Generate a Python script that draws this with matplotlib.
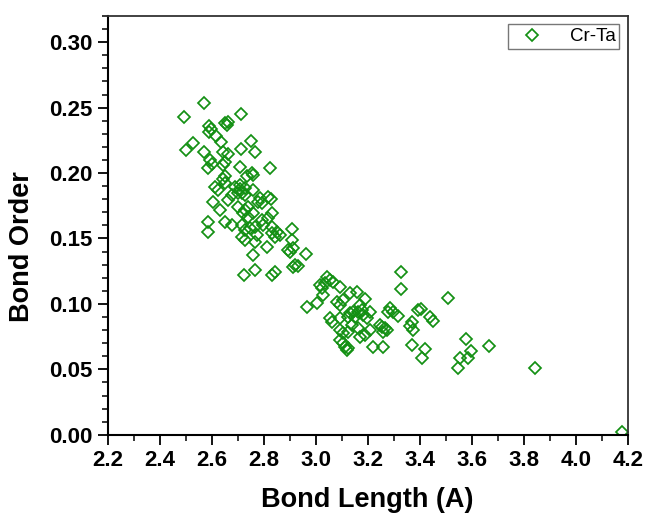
import numpy as np
import matplotlib.pyplot as plt
from matplotlib.ticker import MultipleLocator, FormatStrFormatter

plt.rcParams['font.family'] = ['Liberation Sans', 'DejaVu Sans']

# Cr-Ta pairs: bond length (A) and bond order
bond_length = [
    2.572, 2.494, 2.713, 2.591, 2.597, 2.590, 2.652, 2.664, 2.658, 2.616,
    2.635, 2.750, 2.530, 2.501, 2.571, 2.645, 2.664, 2.713, 2.767, 2.594,
    2.587, 2.600, 2.652, 2.645, 2.709, 2.826, 2.754, 2.760, 2.735, 2.652,
    2.645, 2.613, 2.626, 2.690, 2.709, 2.728, 2.718, 2.760, 2.818, 2.652,
    2.709, 2.703, 2.728, 2.677, 2.786, 2.780, 2.793, 2.828, 2.607, 2.632,
    2.664, 2.703, 2.728, 2.741, 2.722, 2.741, 2.760, 2.831, 2.818, 2.793,
    2.799, 2.587, 2.587, 2.652, 2.677, 2.716, 2.728, 2.748, 2.767, 2.773,
    2.767, 2.831, 2.850, 2.844, 2.863, 2.831, 2.716, 2.728, 2.908, 2.908,
    2.895, 2.914, 2.901, 2.812, 2.760, 2.963, 2.921, 2.914, 2.933, 2.726,
    2.767, 2.831, 2.844,
    3.042, 3.055, 3.068, 3.036, 3.017, 3.023, 3.094, 3.029, 3.132, 3.158,
    3.190, 2.966, 3.004, 3.081, 3.094, 3.106, 3.170, 3.177, 3.164, 3.145,
    3.132, 3.125, 3.151, 3.183, 3.196, 3.209, 3.286, 3.298, 3.279, 3.318,
    3.055, 3.062, 3.094, 3.254, 3.266, 3.260, 3.273, 3.247, 3.094, 3.106,
    3.125, 3.138, 3.164, 3.170, 3.094, 3.106, 3.113, 3.125, 3.119, 3.219,
    3.260, 3.190, 3.209,
    3.369, 3.363, 3.375, 3.369, 3.394, 3.327, 3.327, 3.510, 3.404, 3.439,
    3.452, 3.577, 3.666, 3.420, 3.408, 3.596, 3.587, 3.555, 3.548, 3.843,
    4.176,
]
bond_order = [
    0.2538, 0.2431, 0.2452, 0.2360, 0.2335, 0.2316, 0.2381, 0.2388, 0.2368, 0.2286,
    0.2235, 0.2245, 0.2228, 0.2177, 0.2164, 0.2164, 0.2146, 0.2182, 0.2164, 0.2100,
    0.2041, 0.2069, 0.2087, 0.2062, 0.2049, 0.2037, 0.2003, 0.1985, 0.1978, 0.1978,
    0.1953, 0.1896, 0.1871, 0.1896, 0.1876, 0.1884, 0.1846, 0.1871, 0.1815, 0.1922,
    0.1909, 0.1846, 0.1833, 0.1833, 0.1807, 0.1781, 0.1769, 0.1800, 0.1781, 0.1718,
    0.1794, 0.1743, 0.1718, 0.1743, 0.1693, 0.1667, 0.1693, 0.1693, 0.1654, 0.1641,
    0.1603, 0.1628, 0.1547, 0.1628, 0.1603, 0.1603, 0.1565, 0.1578, 0.1590, 0.1527,
    0.1476, 0.1590, 0.1552, 0.1514, 0.1527, 0.1540, 0.1514, 0.1488, 0.1570, 0.1488,
    0.1412, 0.1425, 0.1399, 0.1437, 0.1374, 0.1381, 0.1297, 0.1280, 0.1290, 0.1221,
    0.1259, 0.1221, 0.1246,
    0.1208, 0.1183, 0.1170, 0.1157, 0.1144, 0.1119, 0.1131, 0.1068, 0.1081, 0.1093,
    0.1035, 0.0979, 0.1005, 0.1017, 0.0992, 0.1030, 0.0992, 0.0953, 0.0940, 0.0940,
    0.0928, 0.0902, 0.0902, 0.0915, 0.0890, 0.0940, 0.0966, 0.0940, 0.0940, 0.0907,
    0.0890, 0.0864, 0.0890, 0.0826, 0.0813, 0.0787, 0.0800, 0.0839, 0.0800, 0.0775,
    0.0787, 0.0839, 0.0813, 0.0749, 0.0724, 0.0699, 0.0673, 0.0660, 0.0648, 0.0668,
    0.0673, 0.0764, 0.0800,
    0.0864, 0.0831, 0.0800, 0.0686, 0.0953, 0.1242, 0.1112, 0.1047, 0.0959, 0.0902,
    0.0872, 0.0729, 0.0680, 0.0655, 0.0584, 0.0640, 0.0584, 0.0584, 0.0508, 0.0508,
    0.0023,
]

green = '#139013'

fig = plt.figure(figsize=(6.48, 5.17), dpi=100)
ax = fig.add_axes([0.166, 0.159, 0.803, 0.810])

ax.plot(bond_length, bond_order, linestyle='none', marker='D', markersize=6.6,
        markerfacecolor='none', markeredgecolor=green, markeredgewidth=1.25,
        label='Cr-Ta')

ax.set_xlim(2.2, 4.2)
ax.set_ylim(0.0, 0.32)
ax.xaxis.set_major_locator(MultipleLocator(0.2))
ax.xaxis.set_minor_locator(MultipleLocator(0.1))
ax.yaxis.set_major_locator(MultipleLocator(0.05))
ax.yaxis.set_minor_locator(MultipleLocator(0.01))
ax.xaxis.set_major_formatter(FormatStrFormatter('%.1f'))
ax.yaxis.set_major_formatter(FormatStrFormatter('%.2f'))

ax.tick_params(which='major', direction='out', length=7, width=1.3,
               labelsize=16, pad=4, top=False, right=False)
ax.tick_params(which='minor', direction='out', length=4, width=1.1,
               top=False, right=False)
for lab in ax.get_xticklabels() + ax.get_yticklabels():
    lab.set_fontweight('bold')

for side in ['left', 'bottom']:
    ax.spines[side].set_linewidth(1.5)
for side in ['top', 'right']:
    ax.spines[side].set_linewidth(1.3)
    ax.spines[side].set_color('#333333')

ax.set_xlabel('Bond Length (A)', fontsize=19.5, fontweight='bold')
ax.set_ylabel('Bond Order', fontsize=19.5, fontweight='bold')
ax.xaxis.set_label_coords(0.5, -0.125)
ax.yaxis.set_label_coords(-0.14, 0.45)

leg = ax.legend(loc='upper right', fontsize=13.5, fancybox=False, framealpha=1,
                edgecolor='#777777', handlelength=2.2, handletextpad=0.9,
                borderpad=0.2, borderaxespad=0.45, markerscale=0.85)
leg.get_frame().set_linewidth(1.0)

fig.savefig('out.png', dpi=100)
